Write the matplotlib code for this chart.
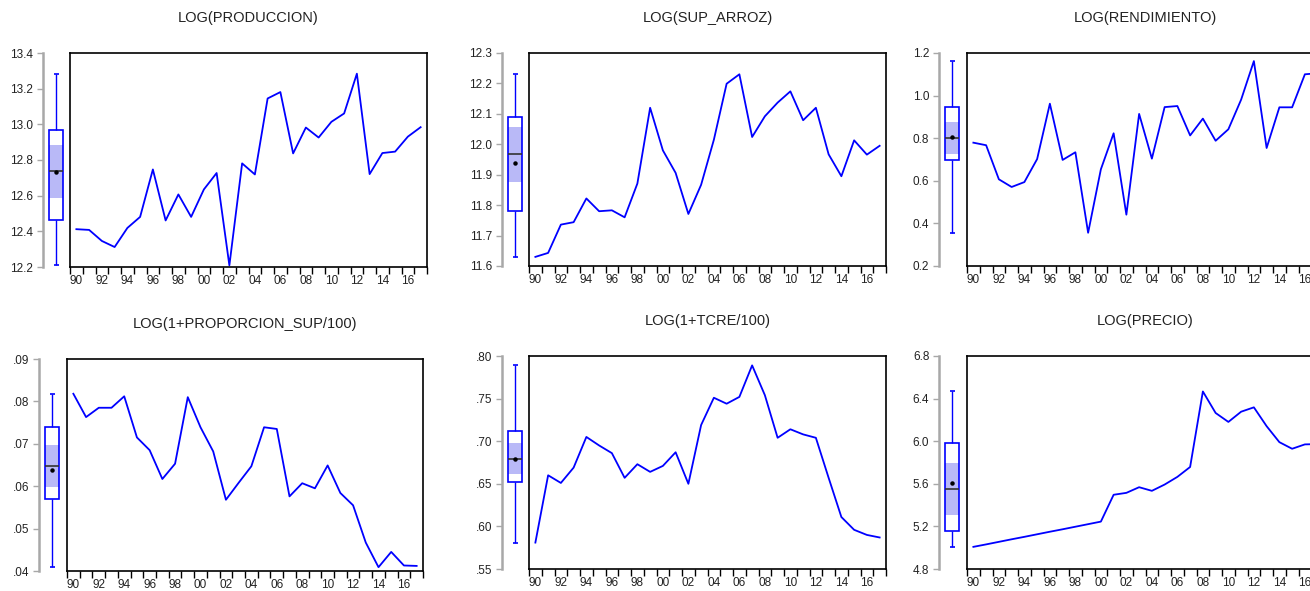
import numpy as np
import matplotlib
matplotlib.use('Agg')
import matplotlib.pyplot as plt
from matplotlib.patches import Rectangle

plt.rcParams['font.family'] = ['Liberation Sans', 'DejaVu Sans']

years = np.arange(1990, 2018)

produccion = [12.412, 12.408, 12.346, 12.312, 12.419, 12.481, 12.747, 12.461, 12.607, 12.481,
              12.635, 12.727, 12.209, 12.781, 12.719, 13.145, 13.181, 12.837, 12.982, 12.926,
              13.014, 13.061, 13.284, 12.721, 12.839, 12.847, 12.931, 12.984]
sup_arroz = [11.630, 11.643, 11.736, 11.744, 11.822, 11.780, 11.783, 11.760, 11.871, 12.120,
             11.980, 11.906, 11.771, 11.867, 12.015, 12.199, 12.230, 12.024, 12.092, 12.137,
             12.174, 12.079, 12.120, 11.967, 11.895, 12.013, 11.966, 11.995]
rendimiento = [0.779, 0.767, 0.607, 0.571, 0.594, 0.702, 0.962, 0.698, 0.734, 0.356,
               0.654, 0.823, 0.441, 0.914, 0.704, 0.946, 0.951, 0.813, 0.892, 0.788,
               0.842, 0.981, 1.162, 0.754, 0.945, 0.945, 1.100, 1.105]
proporcion_sup = [0.0818, 0.0763, 0.0785, 0.0785, 0.0812, 0.0715, 0.0685, 0.0617, 0.0653, 0.0810,
                  0.0739, 0.0682, 0.0568, 0.0608, 0.0647, 0.0739, 0.0735, 0.0576, 0.0607, 0.0595,
                  0.0649, 0.0584, 0.0555, 0.0467, 0.0409, 0.0445, 0.0413, 0.0412]
tcre = [0.581, 0.660, 0.651, 0.669, 0.705, 0.695, 0.686, 0.657, 0.673, 0.664,
        0.671, 0.687, 0.650, 0.719, 0.751, 0.744, 0.752, 0.789, 0.754, 0.704,
        0.714, 0.708, 0.704, 0.657, 0.611, 0.596, 0.590, 0.587]
precio = [5.008, 5.031, 5.055, 5.079, 5.102, 5.126, 5.150, 5.173, 5.197, 5.221,
          5.245, 5.497, 5.515, 5.568, 5.534, 5.593, 5.665, 5.758, 6.467, 6.265,
          6.181, 6.277, 6.318, 6.141, 5.991, 5.929, 5.970, 5.973]

titles = ['LOG(PRODUCCION)', 'LOG(SUP_ARROZ)', 'LOG(RENDIMIENTO)',
          'LOG(1+PROPORCION_SUP/100)', 'LOG(1+TCRE/100)', 'LOG(PRECIO)']
series = [produccion, sup_arroz, rendimiento, proporcion_sup, tcre, precio]
yticks = [np.arange(12.2, 13.41, 0.2), np.arange(11.6, 12.31, 0.1), np.arange(0.2, 1.21, 0.2),
          np.arange(0.04, 0.0901, 0.01), np.arange(0.55, 0.801, 0.05), np.arange(4.8, 6.81, 0.4)]
ydigits = [1, 1, 1, 2, 2, 1]

# pixel layout: box spine x, frame left, frame right, top, bottom
layout = [(43, 70, 427, 53, 267), (502, 529, 886, 53, 266), (939, 967, 1324, 53, 266),
          (39, 67, 423, 359, 571), (502, 529, 886, 356, 569), (939, 967, 1324, 356, 569)]

W, H = 1310, 591
fig = plt.figure(figsize=(W / 100, H / 100), dpi=100)


def px_axes(left, right, top, bottom):
    return fig.add_axes([left / W, 1 - bottom / H, (right - left) / W, (bottom - top) / H])


def fmt(v, d):
    s = f'{v:.{d}f}'
    if d == 2 and s.startswith('0.'):
        s = s[1:]
    return s


blue = '#0000ff'
for title, data, ticks, d, (sp, fl, fr, top, bot) in zip(titles, series, yticks, ydigits, layout):
    data = np.asarray(data)
    lo, hi = ticks[0], ticks[-1]

    # box plot axis
    axb = px_axes(sp, sp + 26, top, bot)
    axb.set_xlim(0, 26)
    axb.set_ylim(lo, hi)
    for k in ['top', 'right', 'bottom']:
        axb.spines[k].set_visible(False)
    axb.spines['left'].set_color('#a8a8a8')
    axb.spines['left'].set_linewidth(1.8)
    axb.set_xticks([])
    axb.set_yticks(ticks)
    axb.set_yticklabels([fmt(t, d) for t in ticks])
    axb.tick_params(axis='y', length=4, width=1, color='#a8a8a8', pad=3,
                    labelsize=8.5, labelcolor='#222222')

    q1, med, q3 = np.percentile(data, [25, 50, 75], method='weibull')
    iqr = q3 - q1
    ci = 1.57 * iqr / np.sqrt(len(data))
    wlo = data[data >= q1 - 1.5 * iqr].min()
    whi = data[data <= q3 + 1.5 * iqr].max()
    mean = data.mean()

    axb.vlines(13, wlo, q1, color=blue, lw=1)
    axb.vlines(13, q3, whi, color=blue, lw=1)
    axb.hlines([wlo, whi], 10.5, 15.5, color=blue, lw=1.2)
    axb.add_patch(Rectangle((6, q1), 14, q3 - q1, fc='white', ec='none'))
    axb.add_patch(Rectangle((6, med - ci), 14, 2 * ci, fc='#b9b9f7', ec='none'))
    axb.add_patch(Rectangle((6, q1), 14, q3 - q1, fc='none', ec=blue, lw=1.2))
    axb.hlines(med, 6, 20, color='#333333', lw=1.2)
    axb.plot(13, mean, 'o', color='black', ms=2.2)

    # time series axis
    ax = px_axes(fl, fr, top, bot)
    ax.plot(years, data, color=blue, lw=1.3)
    ax.set_xlim(1989.5, 2017.5)
    ax.set_ylim(lo, hi)
    ax.set_yticks([])
    ax.set_xticks(np.arange(1989.5, 2018, 1))
    ax.set_xticklabels([])
    ax.tick_params(axis='x', which='major', length=5, width=1, direction='out')
    ax.set_xticks(years[::2], minor=True)
    ax.set_xticklabels([f'{y % 100:02d}' for y in years[::2]], minor=True)
    ax.tick_params(axis='x', which='minor', length=0, pad=5.5, labelsize=8.5, labelcolor='#222222')
    for s in ax.spines.values():
        s.set_linewidth(1.2)

    fig.text((fl + fr) / 2 / W, 1 - (top - 35) / H, title, ha='center', va='center',
             fontsize=10.5, color='#222222')

fig.savefig('out.png', dpi=100)
